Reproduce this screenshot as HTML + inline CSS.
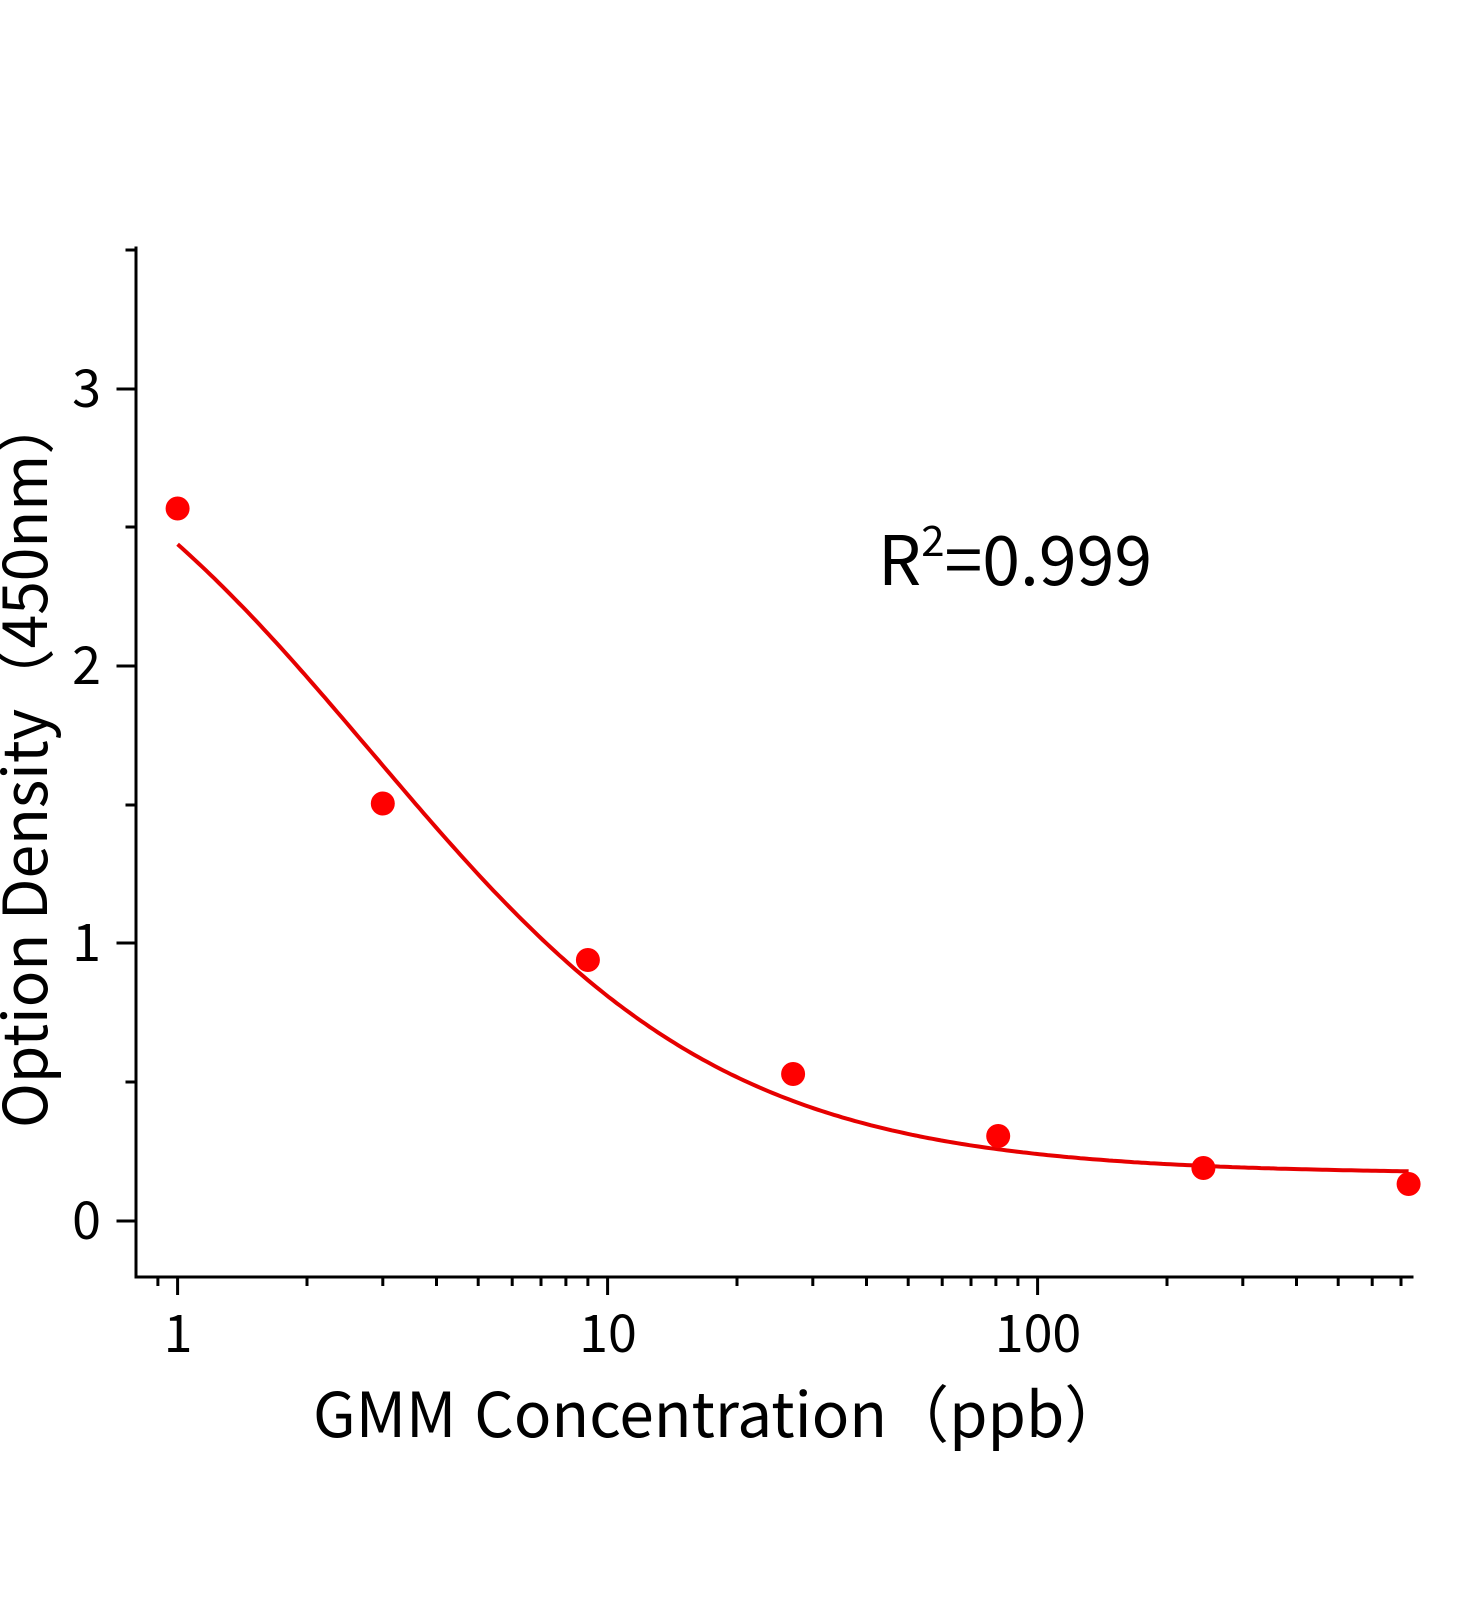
<!DOCTYPE html>
<html><head><meta charset="utf-8"><style>
html,body{margin:0;padding:0;background:#fff;}
svg{display:block;}
text{font-family:"Noto Sans CJK SC","Liberation Sans",sans-serif;fill:#000;}
</style></head><body>
<svg id="s" width="1472" height="1600" viewBox="0 0 1472 1600" xmlns="http://www.w3.org/2000/svg">
<g stroke="#000" stroke-width="3" fill="none" stroke-linecap="square">
<path d="M136 248 V1277 H1412"/>
<path d="M118 1221 H136 M118 943 H136 M118 666 H136 M118 389 H136"/>
<path d="M127 1082 H136 M127 805 H136 M127 527 H136 M127 250 H136"/>
</g>
<g id="xt" stroke="#000" stroke-width="3" fill="none"></g>
<g font-size="52" text-anchor="end">
<text x="101" y="1239">0</text>
<text x="101" y="961">1</text>
<text x="101" y="684">2</text>
<text x="101" y="407">3</text>
</g>
<g font-size="52" text-anchor="middle">
<text x="178" y="1352">1</text>
<text x="608" y="1352">10</text>
<text x="1038" y="1352">100</text>
</g>
<text x="313" y="1437" font-size="62" word-spacing="4">GMM Concentration（ppb）</text>
<text transform="translate(47,1128) rotate(-90)" font-size="60.5">Option Density（450nm）</text>
<text x="878" y="585" font-size="68">R<tspan font-size="42" dy="-29">2</tspan><tspan dy="29">=0.999</tspan></text>
<path id="curve" fill="none" stroke="#e60000" stroke-width="4"/>
<g id="pts" fill="#f00"></g>
</svg>
<script>
(function(){
var X=function(v){return 177.6+430*Math.log10(v);};
var Y=function(v){return 1221-277.5*v;};
var t=document.getElementById('xt'),d='';
for(var dec=0.1;dec<1000;dec*=10){for(var k=1;k<10;k++){var v=dec*k;var x=X(v);if(x<137||x>1412)continue;var L=(k==1)?18:9;d+='M'+x.toFixed(1)+' 1277 V'+(1277+L);}}
t.innerHTML='<path d="'+d+'"/>';
var a=3.2,dd=0.17,c=2.84,b=1.046,p='';
for(var i=0;i<=300;i++){var lx=i/300*Math.log10(729);var v=Math.pow(10,lx);var y=dd+(a-dd)/(1+Math.pow(v/c,b));p+=(i?'L':'M')+X(v).toFixed(1)+' '+Y(y).toFixed(1);}
document.getElementById('curve').setAttribute('d',p);
var ys=[508.5,803.5,960,1074,1136,1168,1184],xs=[1,3,9,27,81,243,729],h='';
for(var j=0;j<7;j++){h+='<circle cx="'+X(xs[j]).toFixed(1)+'" cy="'+ys[j]+'" r="12"/>';}
document.getElementById('pts').innerHTML=h;
})();
</script>
</body></html>
